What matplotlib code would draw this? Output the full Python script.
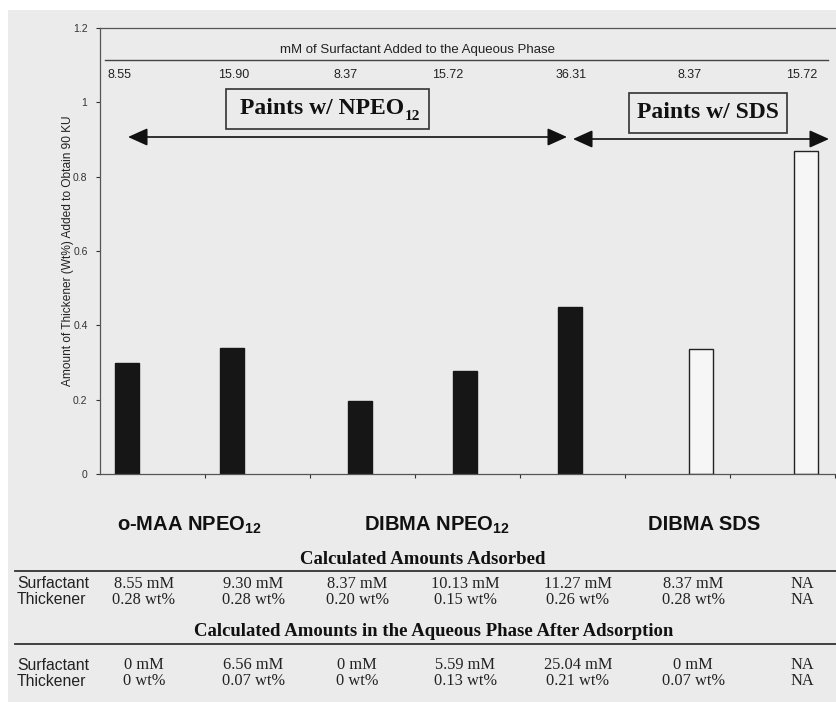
import numpy as np
import matplotlib.pyplot as plt
from matplotlib.patches import Rectangle, FancyArrowPatch
from matplotlib.lines import Line2D

plt.rcParams['font.family'] = ['Liberation Sans', 'DejaVu Sans']
plt.rcParams['mathtext.fontset'] = 'custom'
plt.rcParams['mathtext.bf'] = 'Liberation Sans:bold'
plt.rcParams['mathtext.rm'] = 'Liberation Sans'

# thickener needed to reach 90 KU (wt%), one series per paint type
omaa_npeo = [0.30, 0.338, np.nan, np.nan, np.nan, np.nan, np.nan]
dibma_npeo = [np.nan, np.nan, 0.196, 0.276, 0.448, np.nan, np.nan]
dibma_sds = [np.nan, np.nan, np.nan, np.nan, np.nan, 0.335, 0.87]

surf_added = ['8.55', '15.90', '8.37', '15.72', '36.31', '8.37', '15.72']

ads_surf = ['8.55 mM', '9.30 mM', '8.37 mM', '10.13 mM', '11.27 mM', '8.37 mM', 'NA']
ads_thick = ['0.28 wt%', '0.28 wt%', '0.20 wt%', '0.15 wt%', '0.26 wt%', '0.28 wt%', 'NA']
aq_surf = ['0 mM', '6.56 mM', '0 mM', '5.59 mM', '25.04 mM', '0 mM', 'NA']
aq_thick = ['0 wt%', '0.07 wt%', '0 wt%', '0.13 wt%', '0.21 wt%', '0.07 wt%', 'NA']

W, H = 836, 702
BG = '#ebebeb'


def fx(px):
    return px / W


def fy(py):
    return 1 - py / H


fig = plt.figure(figsize=(W / 100, H / 100), dpi=100, facecolor='white')
fig.patches.append(Rectangle((fx(8), 0), 1, fy(10), transform=fig.transFigure,
                             facecolor=BG, edgecolor='none', zorder=-5))

ax = fig.add_axes([fx(100), fy(474), fx(835) - fx(100), fy(28) - fy(474)])
ax.set_facecolor(BG)
ax.patch.set_alpha(0)

x = np.arange(7)
bw = 0.23
ax.bar(x - 0.24, omaa_npeo, bw, color='#161616', edgecolor='#161616')
ax.bar(x - 0.02, dibma_npeo, bw, color='#161616', edgecolor='#161616')
ax.bar(x + 0.22, dibma_sds, bw, color='#f6f6f6', edgecolor='#222222', lw=1.0)

ax.set_xlim(-0.5, 6.5)
ax.set_ylim(0, 1.2)
ax.set_yticks([0, 0.2, 0.4, 0.6, 0.8, 1.0, 1.2])
ax.set_yticklabels(['0', '0.2', '0.4', '0.6', '0.8', '1', '1.2'])
ax.set_xticks(np.arange(0.5, 7, 1))
ax.set_xticklabels([])
ax.tick_params(axis='both', direction='out', length=3, width=0.8,
               labelsize=7.5, colors='#333333', pad=6)
ax.spines['right'].set_visible(False)
for s in ['left', 'top', 'bottom']:
    ax.spines[s].set_color('#555555')
    ax.spines[s].set_linewidth(0.9)
ax.set_ylabel('Amount of Thickener (Wt%) Added to Obtain 90 KU', fontsize=8.6,
              color='#222222')
ax.yaxis.set_label_coords(-0.035, 0.5)

# surfactant added header
fig.text(fx(417), fy(50), 'mM of Surfactant Added to the Aqueous Phase',
         fontsize=9.5, ha='center', va='center', color='#222222')
fig.add_artist(Line2D([fx(105), fx(828)], [fy(60), fy(60)], color='#444444', lw=1.0))
surf_px = [119, 234, 346, 448, 571, 690, 802]
for px, lab in zip(surf_px, surf_added):
    fig.text(fx(px), fy(75), lab, fontsize=9, ha='center', va='center', color='#222222')

# group boxes and arrows
serif = ['Liberation Serif', 'DejaVu Serif']
for (x0, y0, x1, y1) in [(226, 89, 429, 129), (629, 93, 787, 133)]:
    fig.patches.append(Rectangle((fx(x0), fy(y1)), fx(x1) - fx(x0), fy(y0) - fy(y1),
                                 transform=fig.transFigure, facecolor=BG,
                                 edgecolor='#333333', lw=1.2))
fig.text(fx(404), fy(109), 'Paints w/ NPEO', fontsize=17, fontweight='bold',
         family=serif, ha='right', va='center', color='#111111')
fig.text(fx(405), fy(116), '12', fontsize=11, fontweight='bold',
         family=serif, ha='left', va='center', color='#111111')
fig.text(fx(708), fy(112), 'Paints w/ SDS', fontsize=17, fontweight='bold',
         family=serif, ha='center', va='center', color='#111111')

for (xa, xb, yy) in [(128, 567, 137), (573, 829, 139)]:
    fig.add_artist(FancyArrowPatch(
        (fx(xa), fy(yy)), (fx(xb), fy(yy)), transform=fig.transFigure,
        arrowstyle='<|-|>,head_length=1.0,head_width=0.45', mutation_scale=12,
        lw=1.2, color='#111111', shrinkA=0, shrinkB=0))

# group labels under the chart
fig.text(fx(189), fy(525), r'o-MAA NPEO$_{\mathbf{12}}$', fontsize=14.5,
         fontweight='bold', ha='center', va='center', color='#111111')
fig.text(fx(437), fy(525), r'DIBMA NPEO$_{\mathbf{12}}$', fontsize=14.5,
         fontweight='bold', ha='center', va='center', color='#111111')
fig.text(fx(704), fy(525), 'DIBMA SDS', fontsize=14.5,
         fontweight='bold', ha='center', va='center', color='#111111')

# tables
col_px = [144, 253, 357, 465, 578, 693, 802]
fig.text(fx(423), fy(560), 'Calculated Amounts Adsorbed', fontsize=13.5,
         fontweight='bold', family=serif, ha='center', va='center', color='#111111')
fig.add_artist(Line2D([fx(15), fx(836)], [fy(571), fy(571)], color='#333333', lw=1.3))
fig.text(fx(434), fy(632), 'Calculated Amounts in the Aqueous Phase After Adsorption',
         fontsize=13.5, fontweight='bold', family=serif, ha='center', va='center',
         color='#111111')
fig.add_artist(Line2D([fx(15), fx(836)], [fy(644), fy(644)], color='#333333', lw=1.3))

rows = [(584, 'Surfactant', ads_surf), (600, 'Thickener', ads_thick),
        (665, 'Surfactant', aq_surf), (681, 'Thickener', aq_thick)]
for py, name, vals in rows:
    fig.text(fx(17), fy(py), name, fontsize=11.3, ha='left', va='center', color='#222222')
    for px, v in zip(col_px, vals):
        fig.text(fx(px), fy(py), v, fontsize=11.8, family=serif,
                 ha='center', va='center', color='#222222')

fig.savefig('out.png', dpi=100, facecolor=fig.get_facecolor())
